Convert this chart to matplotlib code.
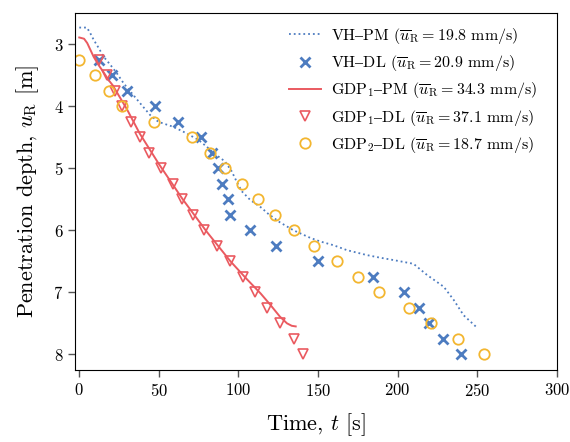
import numpy as np
import matplotlib
matplotlib.use('Agg')
import matplotlib.pyplot as plt

plt.rcParams['font.family'] = ['cmr10', 'DejaVu Serif']
plt.rcParams['mathtext.fontset'] = 'cm'
plt.rcParams['axes.formatter.use_mathtext'] = True

# VH - PM (dotted line)
vh_pm_t = [0, 4.8, 6.9, 9.1, 12.2, 15.3, 19.5, 23.7, 27.9, 34, 39.2, 44.5, 49.7, 59, 65.4,
           74.8, 80, 85.3, 91.6, 95.8, 99, 102.1, 107.4, 114.7, 118, 126, 134.6, 145, 151.4,
           159.7, 168.2, 180.8, 188.7, 197.5, 210, 218.5, 229, 235.2, 241.5, 249.5]
vh_pm_u = [2.73, 2.73, 2.82, 2.93, 3.06, 3.2, 3.33, 3.47, 3.63, 3.82, 3.98, 4.14, 4.25, 4.33, 4.41,
           4.54, 4.65, 4.77, 4.89, 5.05, 5.22, 5.37, 5.51, 5.64, 5.72, 5.87, 6.0, 6.12, 6.18,
           6.24, 6.32, 6.4, 6.44, 6.48, 6.54, 6.72, 6.91, 7.12, 7.37, 7.56]

# depth levels of the DL series
dl_u = [3.25, 3.5, 3.75, 4.0, 4.25, 4.5, 4.75, 5.0, 5.25, 5.5,
        5.75, 6.0, 6.25, 6.5, 6.75, 7.0, 7.25, 7.5, 7.75, 8.0]

vh_dl_t = [12.6, 20.8, 29.8, 47.6, 62.3, 76.5, 83.6, 87.4, 89.6, 93.7,
           94.5, 107.4, 123.5, 149.7, 184.5, 203.8, 213.6, 219.5, 228.6, 239.9]

# GDP1 - PM (solid line)
gdp1_pm_t = [0, 3, 5, 7, 9, 12, 15, 18.5, 21, 30, 38, 50, 65, 80, 95, 105, 114, 120, 126,
             130.5, 133.5, 136]
gdp1_pm_u = [2.89, 2.91, 2.98, 3.09, 3.2, 3.33, 3.44, 3.58, 3.66, 4.05, 4.44, 4.93, 5.5, 6.02,
             6.5, 6.78, 7.02, 7.2, 7.39, 7.5, 7.54, 7.55]

gdp1_dl_t = [12.6, 17.2, 22.5, 26.7, 32.3, 38.2, 43.8, 51.4, 58.7, 64.8,
             71.7, 78.4, 86.4, 94.8, 103.1, 110.5, 118.2, 126.2, 135.2, 140.5]

gdp2_dl_t = [0, 9.9, 18.9, 26.7, 47, 71.1, 82.2, 91.6, 102.1, 112,
             123.1, 135, 147.8, 161.9, 175.1, 188.5, 206.9, 221, 238, 254.1]

blue = '#4d7cc0'
red = '#ea5a60'
yellow = '#f3b630'

fig = plt.figure(figsize=(5.7, 4.42), dpi=100)
ax = fig.add_axes([0.1321, 0.1633, 0.8446, 0.8066])

# en dash drawn in math mode so it falls back to a font that has it
dash = r'$\mathrm{–}$'
ubar = r'$\overline{u}_{\mathrm{R}} = '

ax.plot(vh_pm_t, vh_pm_u, ':', color=blue, lw=1.3,
        label='VH' + dash + 'PM (' + ubar + r'19.8$ mm/s)')
ax.plot(vh_dl_t, dl_u, 'x', color=blue, ms=7, mew=2, ls='none',
        label='VH' + dash + 'DL (' + ubar + r'20.9$ mm/s)')
ax.plot(gdp1_pm_t, gdp1_pm_u, '-', color=red, lw=1.4,
        label=r'GDP$_1$' + dash + 'PM (' + ubar + r'34.3$ mm/s)')
ax.plot(gdp1_dl_t, dl_u, 'v', mfc='none', mec=red, ms=7, mew=1.2, ls='none',
        label=r'GDP$_1$' + dash + 'DL (' + ubar + r'37.1$ mm/s)')
ax.plot(gdp2_dl_t, dl_u, 'o', mfc='none', mec=yellow, ms=7.5, mew=1.3, ls='none',
        label=r'GDP$_2$' + dash + 'DL (' + ubar + r'18.7$ mm/s)')

ax.set_xlim(-2.5, 300)
ax.set_ylim(8.25, 2.5)
ax.set_xticks([0, 50, 100, 150, 200, 250, 300])
ax.set_yticks([3, 4, 5, 6, 7, 8])
ax.tick_params(direction='out', length=5, width=1, color='#555555', labelsize=12)
ax.set_xlabel(r'Time, $t$ [s]', fontsize=16, labelpad=9)
ax.set_ylabel(r'Penetration depth, $u_{\mathrm{R}}$ [m]', fontsize=16, labelpad=9)

ax.legend(loc='upper right', bbox_to_anchor=(0.9855, 1.0), frameon=False, fontsize=11.5,
          handlelength=2, handletextpad=0.6, labelspacing=0.45, borderaxespad=0.4)

fig.savefig('out.png', dpi=100)
